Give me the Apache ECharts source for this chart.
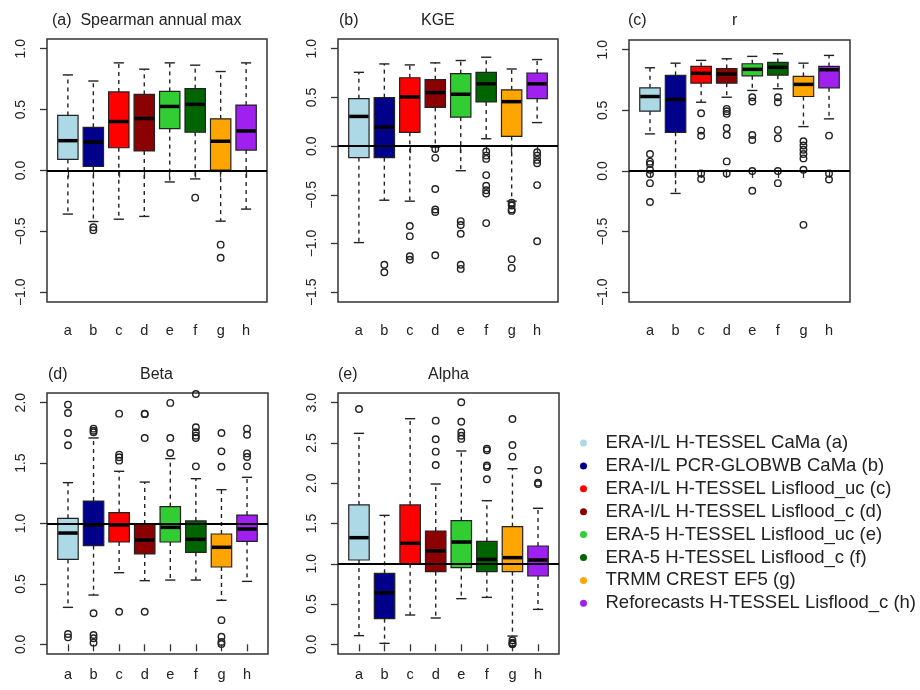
<!DOCTYPE html>
<html><head><meta charset="utf-8">
<script src="https://cdn.jsdelivr.net/npm/echarts@6/dist/echarts.min.js"></script>
<style>html,body{margin:0;padding:0;background:#fff}#c{width:920px;height:690px}</style>
</head><body><div id="c"></div><script>
const categories = ['a', 'b', 'c', 'd', 'e', 'f', 'g', 'h'];
const modelNames = [
  'ERA-I/L H-TESSEL CaMa (a)',
  'ERA-I/L PCR-GLOBWB CaMa (b)',
  'ERA-I/L H-TESSEL Lisflood_uc (c)',
  'ERA-I/L H-TESSEL Lisflood_c (d)',
  'ERA-5 H-TESSEL Lisflood_uc (e)',
  'ERA-5 H-TESSEL Lisflood_c (f)',
  'TRMM CREST EF5 (g)',
  'Reforecasts H-TESSEL Lisflood_c (h)'
];
const boxColors = ['#ADD8E6', '#00008B', '#FF0000', '#8B0000', '#32CD32', '#006400', '#FFA500', '#A020F0'];

// each entry: [lower whisker, Q1, median, Q3, upper whisker]
const spearmanStats = [
  [-0.358, 0.091, 0.245, 0.452, 0.785],
  [-0.419, 0.033, 0.234, 0.355, 0.735],
  [-0.400, 0.187, 0.402, 0.645, 0.884],
  [-0.377, 0.160, 0.427, 0.625, 0.832],
  [-0.094, 0.344, 0.526, 0.650, 0.884],
  [-0.069, 0.314, 0.543, 0.672, 0.865],
  [-0.416, 0.003, 0.240, 0.424, 0.813],
  [-0.317, 0.168, 0.325, 0.537, 0.884]
];
const spearmanOutliers = [[], [-0.466, -0.49], [], [], [], [-0.223], [-0.609, -0.716], []];

const kgeStats = [
  [-0.990, -0.118, 0.305, 0.488, 0.758],
  [-0.555, -0.118, 0.194, 0.498, 0.844],
  [-0.565, 0.142, 0.505, 0.702, 0.834],
  [-0.010, 0.398, 0.550, 0.682, 0.855],
  [-0.252, 0.298, 0.533, 0.744, 0.879],
  [0.076, 0.453, 0.640, 0.758, 0.913],
  [-0.565, 0.100, 0.457, 0.578, 0.792],
  [0.242, 0.488, 0.640, 0.751, 0.889]
];
const kgeOutliers = [
  [],
  [-1.217, -1.294],
  [-0.82, -0.924, -1.13, -1.166],
  [-0.03, -0.12, -0.44, -0.65, -0.676, -1.12],
  [-0.77, -0.81, -0.90, -1.217, -1.26],
  [-0.055, -0.097, -0.131, -0.297, -0.407, -0.452, -0.486, -0.79],
  [-0.58, -0.61, -0.65, -0.665, -1.16, -1.25],
  [-0.062, -0.097, -0.141, -0.176, -0.4, -0.976]
];

const rStats = [
  [0.306, 0.493, 0.614, 0.686, 0.851],
  [-0.185, 0.319, 0.590, 0.788, 0.889],
  [0.567, 0.724, 0.805, 0.862, 0.912],
  [0.608, 0.724, 0.800, 0.845, 0.925],
  [0.664, 0.785, 0.838, 0.884, 0.945],
  [0.678, 0.790, 0.855, 0.895, 0.967],
  [0.366, 0.614, 0.714, 0.780, 0.889],
  [0.430, 0.686, 0.835, 0.862, 0.953]
];
const rOutliers = [
  [0.14, 0.077, 0.058, 0.01, -0.025, -0.1, -0.255],
  [],
  [0.476, 0.333, 0.29, -0.02, -0.066],
  [0.512, 0.493, 0.471, 0.355, 0.297, 0.079, -0.02],
  [0.608, 0.573, 0.297, 0.256, 0.0, -0.163],
  [0.608, 0.567, 0.339, 0.27, 0.0, -0.1],
  [0.245, 0.21, 0.175, 0.14, 0.104, 0.01, -0.444],
  [0.292, -0.02, -0.07]
];

const betaStats = [
  [0.306, 0.703, 0.921, 1.043, 1.338],
  [0.408, 0.817, 0.988, 1.186, 1.708],
  [0.593, 0.847, 0.988, 1.090, 1.432],
  [0.527, 0.748, 0.863, 0.996, 1.343],
  [0.532, 0.847, 0.968, 1.139, 1.537],
  [0.532, 0.761, 0.869, 1.021, 1.371],
  [0.364, 0.640, 0.803, 0.913, 1.280],
  [0.521, 0.852, 0.954, 1.070, 1.382]
];
const betaOutliers = [
  [1.984, 1.915, 1.749, 1.647, 0.086, 0.058],
  [1.785, 1.768, 1.755, 0.257, 0.077, 0.05, 0.014],
  [1.909, 1.57, 1.548, 1.52, 0.27],
  [1.909, 1.905, 1.708, 0.27],
  [1.998, 1.708, 1.584],
  [2.072, 1.796, 1.755, 1.727, 1.708, 1.473],
  [1.749, 1.597, 1.47, 0.2, 0.063, 0.02, 0.003],
  [1.785, 1.735, 1.58, 1.55, 1.473]
];

const alphaStats = [
  [0.108, 1.047, 1.324, 1.730, 2.619],
  [0.012, 0.319, 0.641, 0.881, 1.601],
  [0.364, 1.000, 1.254, 1.730, 2.801],
  [0.327, 0.902, 1.159, 1.407, 1.990],
  [0.567, 0.952, 1.270, 1.535, 2.400],
  [0.583, 0.902, 1.055, 1.279, 1.783],
  [0.103, 0.902, 1.076, 1.461, 2.180],
  [0.434, 0.848, 1.047, 1.221, 1.689]
];
const alphaOutliers = [
  [2.921],
  [],
  [],
  [2.777, 2.545, 2.392, 2.226],
  [3.005, 2.764, 2.632, 2.59, 2.55],
  [2.43, 2.41, 2.22, 2.2, 2.05],
  [2.798, 2.475, 2.33, 0.05, 0.02, 0.01, 0.0],
  [2.164, 2.007, 1.99]
];

const corrTicks = [-1, -0.5, 0, 0.5, 1];
const kgeTicks = [-1.5, -1, -0.5, 0, 0.5, 1];
const betaTicks = [0, 0.5, 1, 1.5, 2];
const alphaTicks = [0, 0.5, 1, 1.5, 2, 2.5, 3];
const categoryPositions = [1, 2, 3, 4, 5, 6, 7, 8];

const FONT = "'Liberation Sans', Arial, sans-serif";

const panels = [
  { stats: spearmanStats, outliers: spearmanOutliers, ticks: corrTicks, yMin: -1.08, yMax: 1.08, ref: 0,
    grid: { left: 47, top: 39, width: 220, height: 263 }, xMargin: 21 },
  { stats: kgeStats, outliers: kgeOutliers, ticks: kgeTicks, yMin: -1.6, yMax: 1.1, ref: 0,
    grid: { left: 338, top: 39, width: 220, height: 263 }, xMargin: 21 },
  { stats: rStats, outliers: rOutliers, ticks: corrTicks, yMin: -1.08, yMax: 1.08, ref: 0,
    grid: { left: 629, top: 40, width: 221, height: 262 }, xMargin: 21 },
  { stats: betaStats, outliers: betaOutliers, ticks: betaTicks, yMin: -0.08, yMax: 2.08, ref: 1,
    grid: { left: 47, top: 393, width: 221, height: 261 }, xMargin: 13 },
  { stats: alphaStats, outliers: alphaOutliers, ticks: alphaTicks, yMin: -0.12, yMax: 3.12, ref: 1,
    grid: { left: 338, top: 393, width: 221, height: 261 }, xMargin: 13 }
];

function fmtTick(v) {
  return (v < 0 ? '\u2212' : '') + Math.abs(v).toFixed(1);
}

function renderBox(params, api) {
  const x = api.value(0);
  const lo = api.coord([x, api.value(1)]);
  const q1 = api.coord([x, api.value(2)]);
  const md = api.coord([x, api.value(3)]);
  const q3 = api.coord([x, api.value(4)]);
  const hi = api.coord([x, api.value(5)]);
  const hw = api.size([0.8, 0])[0] / 2;
  const hs = hw / 2;
  const cx = lo[0];
  const color = boxColors[params.dataIndex];
  const dash = { stroke: '#222', lineWidth: 1.4, lineDash: [4, 4] };
  const solid = { stroke: '#222', lineWidth: 1.4 };
  return {
    type: 'group',
    children: [
      { type: 'line', shape: { x1: cx, y1: q3[1], x2: cx, y2: hi[1] }, style: dash },
      { type: 'line', shape: { x1: cx, y1: q1[1], x2: cx, y2: lo[1] }, style: dash },
      { type: 'line', shape: { x1: cx - hs, y1: hi[1], x2: cx + hs, y2: hi[1] }, style: solid },
      { type: 'line', shape: { x1: cx - hs, y1: lo[1], x2: cx + hs, y2: lo[1] }, style: solid },
      { type: 'rect', shape: { x: cx - hw, y: q3[1], width: 2 * hw, height: q1[1] - q3[1] },
        style: { fill: color, stroke: '#222', lineWidth: 1.2 } },
      { type: 'line', shape: { x1: cx - hw + 0.5, y1: md[1], x2: cx + hw - 0.5, y2: md[1] },
        style: { stroke: '#000', lineWidth: 3.5 } }
    ]
  };
}

const grids = [], xAxes = [], yAxes = [], series = [];
panels.forEach((p, i) => {
  grids.push(Object.assign({ show: true, borderColor: '#333', borderWidth: 1.5, backgroundColor: 'transparent' }, p.grid));
  xAxes.push({
    type: 'value', gridIndex: i, min: 0.18, max: 8.82,
    splitLine: { show: false }, axisLine: { show: false },
    axisTick: { show: true, customValues: categoryPositions, length: 7, lineStyle: { color: '#333', width: 1.3 } },
    axisLabel: { customValues: categoryPositions, margin: p.xMargin, fontSize: 14.5, color: '#222', fontFamily: FONT,
      formatter: v => categories[Math.round(v) - 1] }
  });
  yAxes.push({
    type: 'value', gridIndex: i, min: p.yMin, max: p.yMax,
    splitLine: { show: false }, axisLine: { show: false },
    axisTick: { show: true, customValues: p.ticks, length: 7, lineStyle: { color: '#333', width: 1.3 } },
    axisLabel: { customValues: p.ticks, rotate: 90, margin: 19, fontSize: 14, color: '#222', fontFamily: FONT,
      formatter: fmtTick }
  });
  series.push({
    type: 'custom', xAxisIndex: i, yAxisIndex: i, silent: true, z: 2,
    data: p.stats.map((s, k) => [categoryPositions[k]].concat(s)),
    encode: { x: 0, y: [1, 2, 3, 4, 5] },
    renderItem: renderBox
  });
  const pts = [];
  p.outliers.forEach((list, k) => list.forEach(v => pts.push([categoryPositions[k], v])));
  series.push({
    type: 'scatter', xAxisIndex: i, yAxisIndex: i, silent: true, z: 3,
    data: pts, symbol: 'circle', symbolSize: 6.5,
    itemStyle: { color: 'rgba(0,0,0,0)', borderColor: '#222', borderWidth: 1.4, opacity: 1 },
    markLine: {
      silent: true, symbol: ['none', 'none'], label: { show: false },
      lineStyle: { color: '#000', width: 2, type: 'solid' },
      data: [{ yAxis: p.ref }]
    }
  });
});

modelNames.forEach((name, k) => {
  series.push({ type: 'scatter', name: name, xAxisIndex: 0, yAxisIndex: 0, data: [],
    itemStyle: { color: boxColors[k], opacity: 1 } });
});

const titleStyle = { fontSize: 16, fontWeight: 'normal', color: '#222', fontFamily: FONT };
const titles = [
  { text: '(a)  Spearman annual max', left: 52, top: 13 },
  { text: '(b)', left: 339, top: 13 },
  { text: 'KGE', left: 421, top: 13 },
  { text: '(c)', left: 628, top: 13 },
  { text: 'r', left: 732, top: 13 },
  { text: '(d)', left: 48, top: 367 },
  { text: 'Beta', left: 140, top: 367 },
  { text: '(e)', left: 338, top: 367 },
  { text: 'Alpha', left: 428, top: 367 }
].map(t => Object.assign({ padding: 0, textStyle: titleStyle }, t));

const chart = echarts.init(document.getElementById('c'), null, { renderer: 'canvas' });
chart.setOption({
  animation: false,
  backgroundColor: '#fff',
  title: titles,
  legend: {
    orient: 'vertical', left: 580, top: 433.5, icon: 'circle', itemWidth: 34, itemHeight: 7, itemGap: 3.9,
    selectedMode: false, padding: 0,
    itemStyle: { opacity: 1 },
    textStyle: { fontSize: 18.5, color: '#222', fontFamily: FONT },
    data: modelNames
  },
  grid: grids, xAxis: xAxes, yAxis: yAxes, series: series
});
</script></body></html>
